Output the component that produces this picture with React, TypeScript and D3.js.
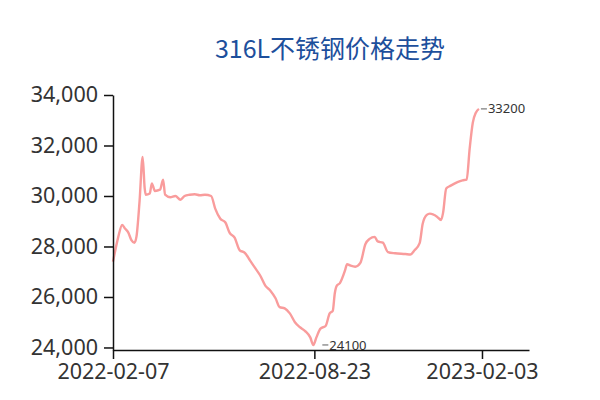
import React, { useEffect, useRef } from 'react';
import * as d3 from 'd3';

// 316L price series
const dates = [
  '2022-02-07', '2022-02-09', '2022-02-12', '2022-02-16', '2022-02-19', '2022-02-22', '2022-02-25',
  '2022-02-28', '2022-03-02', '2022-03-05', '2022-03-08', '2022-03-10', '2022-03-11', '2022-03-15',
  '2022-03-17', '2022-03-20', '2022-03-25', '2022-03-28', '2022-03-30', '2022-04-04', '2022-04-09',
  '2022-04-14', '2022-04-18', '2022-04-23', '2022-04-28', '2022-05-03', '2022-05-08', '2022-05-14',
  '2022-05-18', '2022-05-23', '2022-05-28', '2022-06-01', '2022-06-06', '2022-06-11', '2022-06-16',
  '2022-06-21', '2022-06-26', '2022-07-01', '2022-07-06', '2022-07-11', '2022-07-16', '2022-07-20',
  '2022-07-25', '2022-07-30', '2022-08-04', '2022-08-09', '2022-08-14', '2022-08-19', '2022-08-22',
  '2022-08-25', '2022-08-29', '2022-09-03', '2022-09-07', '2022-09-10', '2022-09-12', '2022-09-14',
  '2022-09-17', '2022-09-22', '2022-09-24', '2022-09-27', '2022-10-02', '2022-10-07', '2022-10-12',
  '2022-10-16', '2022-10-21', '2022-10-24', '2022-10-29', '2022-11-03', '2022-11-10', '2022-11-20',
  '2022-11-25', '2022-11-29', '2022-12-04', '2022-12-07', '2022-12-11', '2022-12-14', '2022-12-21',
  '2022-12-25', '2022-12-27', '2022-12-30', '2023-01-03', '2023-01-10', '2023-01-15', '2023-01-19',
  '2023-01-22', '2023-01-25', '2023-01-28', '2023-01-31',
];
const prices = [
  27400, 27800, 28350, 28850, 28700, 28550, 28250,
  28150, 28400, 29800, 31550, 30300, 30050, 30100,
  30500, 30200, 30250, 30650, 30050, 29950, 30000,
  29850, 30000, 30050, 30070, 30030, 30050, 30000,
  29500, 29100, 28950, 28550, 28350, 27850, 27750,
  27450, 27150, 26850, 26450, 26250, 25950, 25600,
  25550, 25350, 25000, 24800, 24650, 24400, 24100,
  24400, 24750, 24850, 25350, 25450, 26150, 26450,
  26550, 27050, 27300, 27250, 27200, 27350, 28100,
  28300, 28380, 28200, 28150, 27780, 27730, 27700,
  27680, 27850, 28130, 28900, 29250, 29300, 29180,
  29050, 29350, 30300, 30400, 30550, 30620, 30650,
  31900, 32900, 33300, 33450,
];
const xTicks = ['2022-02-07', '2022-08-23', '2023-02-03'];
const yTicks = [24000, 26000, 28000, 30000, 32000, 34000];
const xEnd = '2023-03-21';
const extremeLabels = [
  { date: '2022-08-22', value: 24100 },
  { date: '2023-01-31', value: 33200 },
];

const parse = d3.timeParse('%Y-%m-%d');

export default function App() {
  const ref = useRef<SVGSVGElement>(null);

  useEffect(() => {
    document.body.style.margin = '0';
    if (!ref.current) return;
    const svg = d3.select(ref.current);
    svg.selectAll('*').remove();

    const data = dates.map((d, i) => ({ date: parse(d)!, value: prices[i] }));
    const valueAt = (ds: string) => data.find(p => +p.date === +parse(ds)!)!.value;

    const x = d3.scaleTime()
      .domain([parse(dates[0])!, parse(xEnd)!])
      .range([113, 529]);
    const y = d3.scaleLinear()
      .domain([23900, 34000])
      .range([350, 95]);

    // title
    svg.append('text')
      .attr('x', 330)
      .attr('y', 58)
      .attr('text-anchor', 'middle')
      .attr('font-family', '"Noto Sans CJK SC", sans-serif')
      .attr('font-size', 25)
      .attr('fill', '#1d4f9c')
      .text('316L不锈钢价格走势');

    const line = d3.line<{ date: Date; value: number }>()
      .x(d => x(d.date))
      .y(d => y(d.value))
      .curve(d3.curveMonotoneX);

    svg.append('path')
      .datum(data)
      .attr('fill', 'none')
      .attr('stroke', '#f99c9c')
      .attr('stroke-width', 2.4)
      .attr('stroke-linejoin', 'round')
      .attr('d', line);

    const yAxis = svg.append('g')
      .attr('transform', 'translate(113,0)')
      .call(d3.axisLeft(y).tickValues(yTicks).tickSize(9).tickSizeOuter(0).tickPadding(6)
        .tickFormat(d3.format(',')));
    const xAxis = svg.append('g')
      .attr('transform', 'translate(0,350)')
      .call(d3.axisBottom(x).tickValues(xTicks.map(d => parse(d)!)).tickSize(9).tickSizeOuter(0)
        .tickPadding(5).tickFormat(d3.timeFormat('%Y-%m-%d') as any));

    [yAxis, xAxis].forEach(g => {
      g.selectAll('path, line').attr('stroke', '#111').attr('stroke-width', 1.5);
      g.selectAll('text')
        .attr('font-family', '"Noto Sans", sans-serif')
        .attr('font-size', 21.5)
        .attr('fill', '#333');
    });

    // min / max annotations, placed on the line
    const lab = svg.append('g')
      .selectAll('g')
      .data(extremeLabels)
      .join('g')
      .attr('transform', (d, i) => `translate(${x(parse(d.date)!) + (i === 0 ? 9 : 2)},${y(valueAt(d.date))})`);
    lab.append('line')
      .attr('x1', 0).attr('x2', 6)
      .attr('stroke', '#777').attr('stroke-width', 1.2);
    lab.append('text')
      .attr('x', 7)
      .attr('dy', '0.35em')
      .attr('font-family', '"Noto Sans", sans-serif')
      .attr('font-size', 13)
      .attr('fill', '#333')
      .text(d => d.value);
  }, []);

  return <svg ref={ref} width={600} height={400} style={{ display: 'block' }} />;
}
